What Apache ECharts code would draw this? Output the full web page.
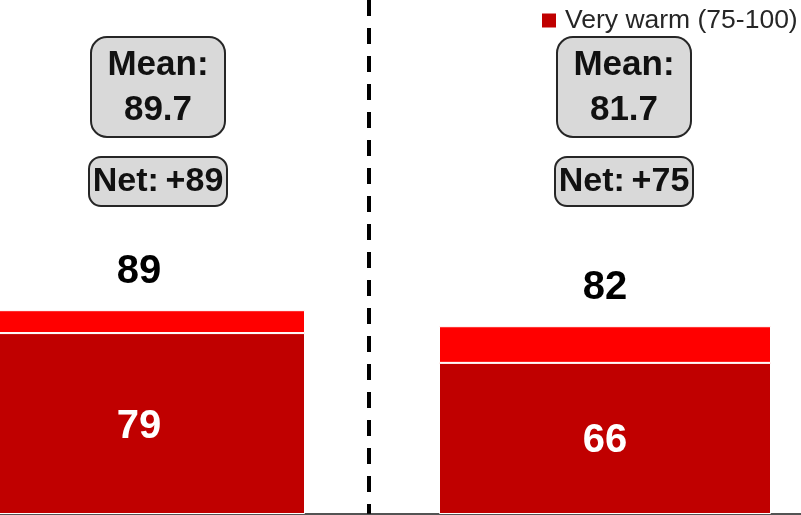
<!DOCTYPE html>
<html>
<head>
<meta charset="utf-8">
<script src="https://cdn.jsdelivr.net/npm/echarts@6/dist/echarts.min.js"></script>
<style>
  html, body { margin: 0; padding: 0; width: 801px; height: 515px; overflow: hidden; background: #fff; }
  #chart { position: absolute; left: -94px; top: 0; width: 932px; height: 515px; }
</style>
</head>
<body>
<div id="chart"></div>
<script>
var categories = ['Group 1', 'Group 2'];
var veryWarm = [79, 66];
var warm = [10, 16];
var totals = [89, 82];
var means = ['89.7', '81.7'];
var nets = ['+89', '+75'];

var font = "'Liberation Sans', Arial, sans-serif";
var myChart = echarts.init(document.getElementById('chart'));

var option = {
    animation: false,
    legend: {
        data: ['Very warm (75-100)'],
        left: 629,
        top: 2,
        icon: 'rect',
        itemWidth: 16,
        itemHeight: 16,
        itemGap: 0,
        textStyle: { fontFamily: font, fontSize: 26.5, color: '#262626', padding: [0, 0, 0, 3] }
    },
    grid: { left: 0, right: 0, top: 285, bottom: 1 },
    xAxis: {
        type: 'category',
        data: categories,
        axisLine: { lineStyle: { color: '#1a1a1a', width: 1.5 } },
        axisTick: { show: false },
        axisLabel: { show: false }
    },
    yAxis: { type: 'value', min: 0, max: 100, show: false },
    series: [{
        name: 'Very warm (75-100)',
        type: 'bar',
        stack: 'total',
        barWidth: 332,
        data: veryWarm,
        itemStyle: { color: '#c00000', borderColor: '#fff', borderWidth: 1 },
        label: {
            show: true,
            position: 'inside',
            offset: [0, 3],
            color: '#fff',
            fontFamily: font,
            fontWeight: 'bold',
            fontSize: 40
        }
    }, {
        name: 'Somewhat warm (51-74)',
        type: 'bar',
        stack: 'total',
        barWidth: 332,
        data: warm,
        itemStyle: { color: '#ff0000', borderColor: '#fff', borderWidth: 1 },
        label: {
            show: true,
            position: 'top',
            distance: 18,
            color: '#000',
            fontFamily: font,
            fontWeight: 'bold',
            fontSize: 40,
            formatter: function (p) { return totals[p.dataIndex]; }
        }
    }]
};
myChart.setOption(option);

// annotation boxes and the dashed divider
var elements = [];
var centers = categories.map(function (c) {
    return myChart.convertToPixel({ xAxisIndex: 0 }, c);
});
centers.forEach(function (cx, i) {
    var bx = cx + 19;
    elements.push({
        type: 'rect',
        shape: { x: bx - 67, y: 37, width: 134, height: 100, r: 16 },
        style: { fill: '#d9d9d9', stroke: '#262626', lineWidth: 2 }
    });
    elements.push({
        type: 'text',
        x: bx, y: 88,
        style: {
            text: 'Mean:\n' + means[i],
            fill: '#111',
            font: 'bold 35px ' + font,
            lineHeight: 45,
            align: 'center',
            verticalAlign: 'middle'
        }
    });
    elements.push({
        type: 'rect',
        shape: { x: bx - 69, y: 157, width: 138, height: 49, r: 12 },
        style: { fill: '#d9d9d9', stroke: '#262626', lineWidth: 2 }
    });
    elements.push({
        type: 'text',
        x: bx, y: 182,
        style: {
            text: 'Net:\u2009' + nets[i],
            fill: '#111',
            font: 'bold 34px ' + font,
            align: 'center',
            verticalAlign: 'middle'
        }
    });
});
var midX = (centers[0] + centers[1]) / 2 - 3;
elements.push({
    type: 'line',
    shape: { x1: midX, y1: 0, x2: midX, y2: 514 },
    style: { stroke: '#000', lineWidth: 4, lineDash: [16, 12] }
});
myChart.setOption({ graphic: elements });
</script>
</body>
</html>
